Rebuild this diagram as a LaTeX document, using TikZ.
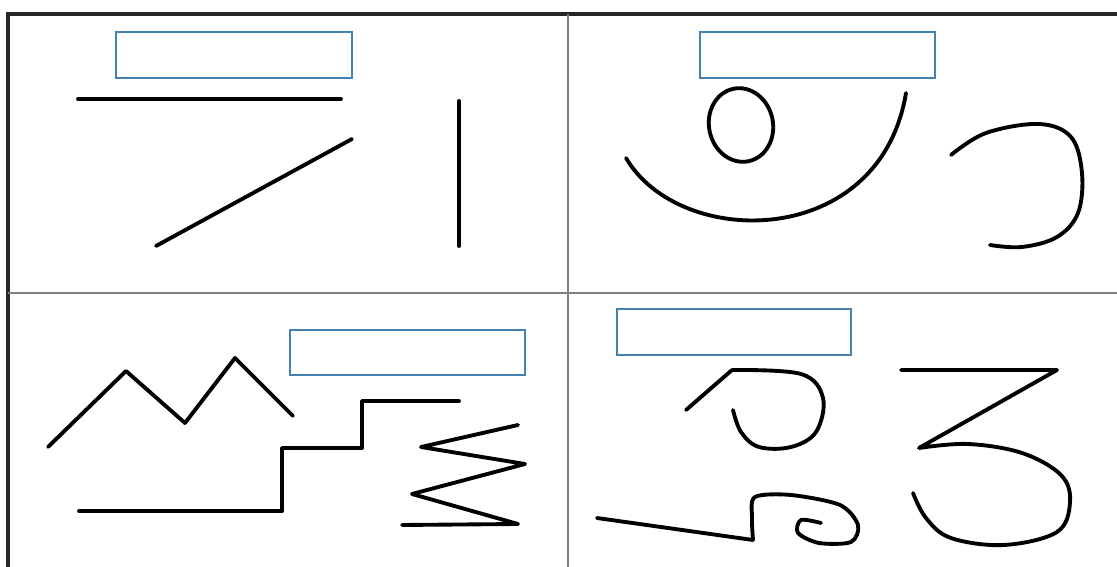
\documentclass[tikz,border=0pt]{standalone}
\usepackage{tikz}
\usetikzlibrary{calc}
\definecolor{boxblue}{RGB}{70,130,175}
\tikzstyle{frame} = [draw=black!85,line width=2pt]
\tikzstyle{divider} = [draw=black!50,line width=1.5pt]
\tikzstyle{labelbox} = [draw=boxblue,line width=0.9pt]
\tikzstyle{stroke} = [draw=black,line width=2.2pt,line cap=round,line join=round]

\begin{document}
\begin{tikzpicture}[x=0.02cm,y=-0.02cm]
    \useasboundingbox (0,0) rectangle (1117,567);
    % frame and quadrants
    \draw[frame] (8,567) -- (8,14) -- (1117,14);
    \draw[divider] (568,14) -- (568,567);
    \draw[divider] (8,293) -- (1117,293);
    % empty label boxes
    \draw[labelbox] (116,32) rectangle (352,78);
    \draw[labelbox] (700,32) rectangle (935,78);
    \draw[labelbox] (290,330) rectangle (525,375);
    \draw[labelbox] (617,309) rectangle (851,355);
    % top left: straight lines
    \draw[stroke] (78,99) -- (341,99);
    \draw[stroke] (156,246) -- (352,139);
    \draw[stroke] (459,101) -- (459,246);
    % top right: curves
    \draw[stroke, rotate around={12:(741,125)}] (741,125) ellipse [x radius=32, y radius=37];
    \draw[stroke] (626,158) .. controls (680,250) and (880,250) .. (906,93);
    \draw[stroke] plot[smooth, tension=0.6] coordinates
        {(951,155) (986,133) (1039,124) (1071,137) (1082,173) (1078,213) (1057,237) (1022,247) (990,245)};
    % bottom left: broken lines
    \draw[stroke] (48,447) -- (126,371) -- (185,423) -- (235,358) -- (293,416);
    \draw[stroke] (79,511) -- (282,511) -- (282,448) -- (362,448) -- (362,401) -- (459,401);
    \draw[stroke] (518,425) -- (421,447) -- (525,464) -- (412,494) -- (518,524) -- (402,525);
    % bottom right: mixed
    \draw[stroke] (686,410) -- (732,370) plot[smooth, tension=0.6] coordinates
        {(732,370) (801,374) (823,398) (816,432) (791,447) (759,447) (741,432) (733,410)};
    \draw[stroke] (597,518) -- (753,540) plot[smooth, tension=0.5] coordinates
        {(753,540) (752,518) (755,497) (791,495) (840,505) (858,525) (851,542) (819,543) (798,533) (801,520) (821,523)};
    \draw[stroke] (901,370) -- (1057,370) -- (919,448) plot[smooth, tension=0.6] coordinates
        {(919,448) (968,444) (1022,453) (1061,475) (1070,502) (1057,532) (1004,545) (951,538) (926,518) (913,493)};
\end{tikzpicture}
\end{document}
